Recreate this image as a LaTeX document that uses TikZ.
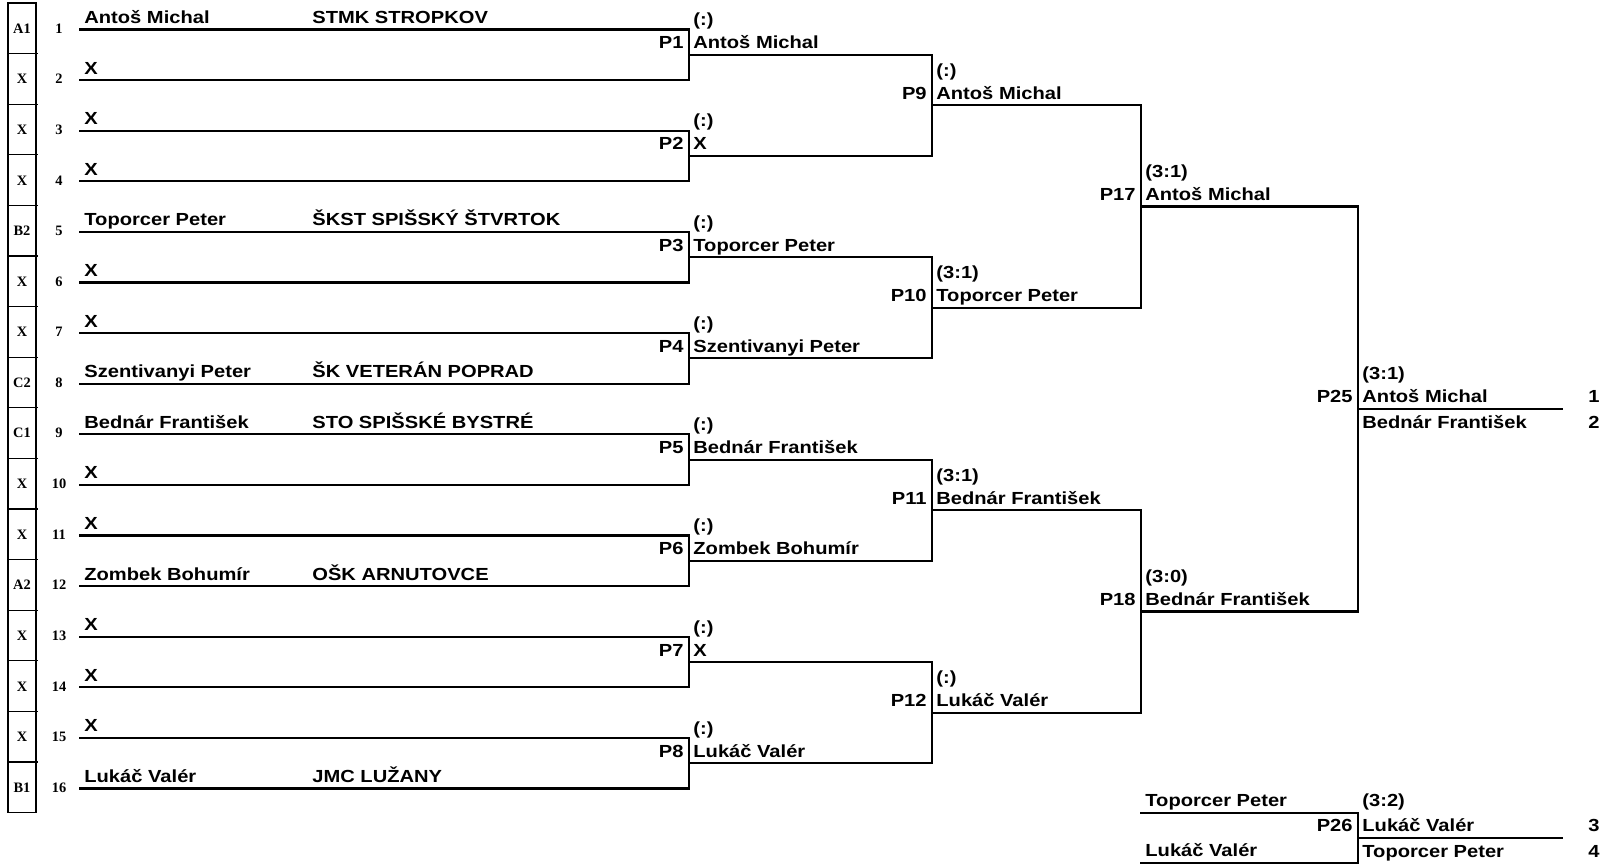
\documentclass[tikz,border=0pt]{standalone}
\usepackage{fontspec}
\usetikzlibrary{calc}
\newfontfamily\arb{Liberation Sans}[FakeStretch=1.15]
\newfontfamily\tms{Liberation Serif}
\begin{document}
\begin{tikzpicture}[x=0.5pt,y=-0.5pt,
  bline/.style={line width=1.1pt, line cap=rect},
  thin/.style={line width=0.55pt},
  txt/.style={inner sep=0pt, font=\arb\bfseries\fontsize{8.75}{10}\selectfont},
  lft/.style={txt, anchor=base west},
  rgt/.style={txt, anchor=base east},
  ctr/.style={txt, anchor=base},
  seed/.style={inner sep=0pt, font=\tms\bfseries\fontsize{7.2}{8}\selectfont}]
\useasboundingbox (0,0) rectangle (1604,865);
% seed column
\draw[thin] (8,3) rectangle (36,812.6);
\foreach \k in {1,...,15}{
  \draw[thin] (8,3+50.6*\k) -- (38,3+50.6*\k);
}
% players
\foreach \i/\nm/\sd in {1/Antoš Michal/A1, 2/X/X, 3/X/X, 4/X/X, 5/Toporcer Peter/B2,
  6/X/X, 7/X/X, 8/Szentivanyi Peter/C2, 9/Bednár František/C1, 10/X/X, 11/X/X,
  12/Zombek Bohumír/A2, 13/X/X, 14/X/X, 15/X/X, 16/Lukáč Valér/B1}{
  \pgfmathsetmacro\yy{29.5+50.6*(\i-1)}
  \coordinate (s\i) at (80,\yy);
  \coordinate (e\i) at (689,\yy);
  \draw[bline] (s\i) -- (e\i);
  \node[lft] (pn\i) at (84,\yy-6) {\nm};
  \node[seed] (num\i) at (59,\yy-1) {\i};
  \node[seed] (sd\i) at (22,\yy-1) {\sd};
}
\foreach \i/\club in {1/STMK STROPKOV, 5/ŠKST SPIŠSKÝ ŠTVRTOK, 8/ŠK VETERÁN POPRAD,
  9/STO SPIŠSKÉ BYSTRÉ, 12/OŠK ARNUTOVCE, 16/JMC LUŽANY}{
  \node[lft] (pc\i) at ($(s\i)+(232,-6)$) {\club};
}
% round 1
\foreach \k/\w/\sc in {1/Antoš Michal/(:), 2/X/(:), 3/Toporcer Peter/(:),
  4/Szentivanyi Peter/(:), 5/Bednár František/(:), 6/Zombek Bohumír/(:),
  7/X/(:), 8/Lukáč Valér/(:)}{
  \pgfmathtruncatemacro\a{2*\k-1}
  \pgfmathtruncatemacro\b{2*\k}
  \draw[bline] (e\a) -- (e\b);
  \coordinate (ra\k) at ($(e\a)!0.5!(e\b)$);
  \coordinate (rao\k) at ($(ra\k)+(243,0)$);
  \draw[bline] (ra\k) -- (rao\k);
  \node[rgt] (pa\k) at ($(ra\k)+(-5,-6)$) {P\k};
  \node[lft] (sa\k) at ($(ra\k)+(4,-29)$) {\sc};
  \node[lft] (wa\k) at ($(ra\k)+(4,-6)$) {\w};
}
% round 2
\foreach \k/\p/\w/\sc in {1/9/Antoš Michal/(:), 2/10/Toporcer Peter/(3:1),
  3/11/Bednár František/(3:1), 4/12/Lukáč Valér/(:)}{
  \pgfmathtruncatemacro\a{2*\k-1}
  \pgfmathtruncatemacro\b{2*\k}
  \draw[bline] (rao\a) -- (rao\b);
  \coordinate (rb\k) at ($(rao\a)!0.5!(rao\b)$);
  \coordinate (rbo\k) at ($(rb\k)+(209,0)$);
  \draw[bline] (rb\k) -- (rbo\k);
  \node[rgt] (pb\k) at ($(rb\k)+(-5,-6)$) {P\p};
  \node[lft] (sb\k) at ($(rb\k)+(4,-29)$) {\sc};
  \node[lft] (wb\k) at ($(rb\k)+(4,-6)$) {\w};
}
% round 3
\foreach \k/\p/\w/\sc in {1/17/Antoš Michal/(3:1), 2/18/Bednár František/(3:0)}{
  \pgfmathtruncatemacro\a{2*\k-1}
  \pgfmathtruncatemacro\b{2*\k}
  \draw[bline] (rbo\a) -- (rbo\b);
  \coordinate (rc\k) at ($(rbo\a)!0.5!(rbo\b)$);
  \coordinate (rco\k) at ($(rc\k)+(217,0)$);
  \draw[bline] (rc\k) -- (rco\k);
  \node[rgt] (pc\k) at ($(rc\k)+(-5,-6)$) {P\p};
  \node[lft] (sc\k) at ($(rc\k)+(4,-29)$) {\sc};
  \node[lft] (wc\k) at ($(rc\k)+(4,-6)$) {\w};
}
% final
\draw[bline] (rco1) -- (rco2);
\coordinate (fin) at ($(rco1)!0.5!(rco2)$);
\coordinate (fine) at ($(fin)+(204,0)$);
\draw[bline] (fin) -- (fine);
\node[rgt] (p25) at ($(fin)+(-5,-6)$) {P25};
\node[lft] (s25) at ($(fin)+(4,-29)$) {(3:1)};
\node[lft] (w25) at ($(fin)+(4,-6)$) {Antoš Michal};
\node[lft] (l25) at ($(fin)+(4,20)$) {Bednár František};
\node[ctr] (r1) at ($(fin)+(236,-6)$) {1};
\node[ctr] (r2) at ($(fin)+(236,20)$) {2};
% third place
\coordinate (ta) at (1141,812.8);
\coordinate (tae) at (1358,812.8);
\coordinate (tb) at (1141,862.6);
\coordinate (tbe) at (1358,862.6);
\draw[bline] (ta) -- (tae);
\draw[bline] (tb) -- (tbe);
\draw[bline] (tae) -- (tbe);
\coordinate (tm) at ($(tae)!0.5!(tbe)$);
\coordinate (tme) at ($(tm)+(204,0)$);
\draw[bline] (tm) -- (tme);
\node[lft] (t1) at ($(ta)+(4,-6)$) {Toporcer Peter};
\node[lft] (t2) at ($(tb)+(4,-6)$) {Lukáč Valér};
\node[rgt] (p26) at ($(tm)+(-5,-6)$) {P26};
\node[lft] (s26) at ($(tae)+(4,-6)$) {(3:2)};
\node[lft] (w26) at ($(tm)+(4,-6)$) {Lukáč Valér};
\node[lft] (l26) at ($(tm)+(4,20)$) {Toporcer Peter};
\node[ctr] (r3) at ($(tm)+(236,-6)$) {3};
\node[ctr] (r4) at ($(tm)+(236,20)$) {4};
\end{tikzpicture}
\end{document}
